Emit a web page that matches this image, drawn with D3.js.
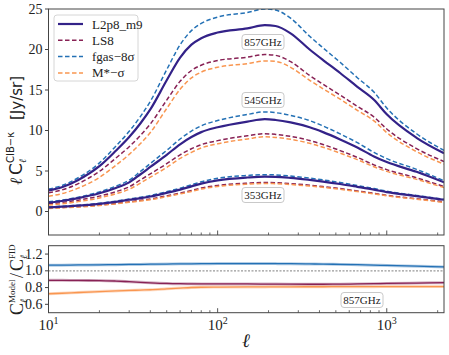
<!DOCTYPE html>
<html>
<head>
<meta charset="utf-8">
<script src="https://cdn.jsdelivr.net/npm/d3@7"></script>
<style>
  body { margin: 0; background: #fff; }
  svg { display: block; }
  text { font-family: "Liberation Serif", "DejaVu Serif", serif; fill: #222; }
</style>
</head>
<body>
<svg width="449" height="355"></svg>
<script>
// multipoles
var ells = [10, 12, 15, 20, 25, 30, 35, 40, 50, 60, 70, 80, 100, 150, 190, 220, 270, 350, 420, 530, 670, 840, 1000, 1500, 2180];

// 857 GHz
var l2p8_857 = [2.6, 3.0, 3.9, 5.6, 7.5, 9.2, 10.9, 12.6, 16.2, 19.0, 20.6, 21.4, 22.1, 22.6, 23.0, 22.9, 22.0, 20.0, 18.7, 17.1, 15.4, 13.8, 12.0, 9.1, 7.2];
var ls8_857 = [2.31, 2.66, 3.45, 4.95, 6.59, 8.0, 9.41, 10.8, 13.75, 16.07, 17.41, 18.06, 18.63, 19.05, 19.37, 19.28, 18.5, 16.8, 15.71, 14.38, 12.98, 11.67, 10.19, 7.77, 6.18];
var fgas_857 = [2.77, 3.2, 4.17, 6.0, 8.06, 9.9, 11.74, 13.6, 17.51, 20.58, 22.33, 23.22, 24.0, 24.57, 25.0, 24.87, 23.87, 21.64, 20.2, 18.42, 16.52, 14.74, 12.77, 9.6, 7.54];
var mstar_857 = [1.89, 2.2, 2.89, 4.21, 5.7, 7.05, 8.39, 9.75, 12.72, 15.09, 16.5, 17.21, 17.81, 18.26, 18.58, 18.53, 17.8, 16.2, 15.15, 13.87, 12.49, 11.19, 9.74, 7.39, 5.85];

// 545 GHz
var l2p8_545 = [1.1, 1.3, 1.65, 2.25, 2.9, 3.6, 4.6, 5.5, 7.0, 8.3, 9.2, 9.8, 10.4, 11.1, 11.4, 11.3, 11.0, 10.4, 9.8, 8.9, 7.9, 6.8, 6.1, 4.9, 3.6];
var ls8_545 = [0.95, 1.12, 1.4, 1.9, 2.45, 3.05, 3.9, 4.65, 5.9, 7.0, 7.75, 8.25, 8.75, 9.35, 9.6, 9.52, 9.27, 8.77, 8.27, 7.52, 6.68, 5.76, 5.17, 4.16, 3.08];
var fgas_545 = [1.2, 1.4, 1.77, 2.42, 3.12, 3.87, 4.95, 5.93, 7.55, 8.95, 9.93, 10.58, 11.23, 11.98, 12.3, 12.2, 11.87, 11.22, 10.56, 9.58, 8.5, 7.3, 6.53, 5.2, 3.8];
var mstar_545 = [0.8, 0.95, 1.22, 1.68, 2.2, 2.75, 3.52, 4.24, 5.45, 6.55, 7.3, 7.85, 8.36, 8.96, 9.22, 9.15, 8.91, 8.42, 7.94, 7.2, 6.4, 5.52, 4.95, 3.97, 2.95];

// 353 GHz
var l2p8_353 = [0.5, 0.6, 0.72, 0.95, 1.2, 1.45, 1.65, 1.85, 2.3, 2.7, 3.1, 3.45, 3.85, 4.2, 4.3, 4.28, 4.15, 3.9, 3.7, 3.4, 3.05, 2.7, 2.4, 1.9, 1.45];
var ls8_353 = [0.42, 0.5, 0.6, 0.8, 1.0, 1.2, 1.38, 1.55, 1.94, 2.28, 2.6, 2.9, 3.22, 3.5, 3.58, 3.56, 3.45, 3.25, 3.08, 2.83, 2.54, 2.25, 2.0, 1.58, 1.2];
var fgas_353 = [0.55, 0.65, 0.78, 1.02, 1.28, 1.54, 1.76, 1.97, 2.45, 2.88, 3.3, 3.67, 4.1, 4.45, 4.55, 4.52, 4.38, 4.12, 3.9, 3.58, 3.2, 2.83, 2.51, 1.98, 1.5];
var mstar_353 = [0.38, 0.46, 0.56, 0.74, 0.94, 1.13, 1.3, 1.46, 1.84, 2.17, 2.48, 2.77, 3.09, 3.37, 3.45, 3.44, 3.33, 3.14, 2.98, 2.74, 2.46, 2.18, 1.94, 1.53, 1.12];

// ratio to fiducial, 857 GHz
var ratio_fgas = [1.067, 1.068, 1.07, 1.072, 1.074, 1.076, 1.077, 1.079, 1.081, 1.083, 1.084, 1.085, 1.086, 1.087, 1.087, 1.086, 1.085, 1.082, 1.08, 1.077, 1.073, 1.068, 1.064, 1.055, 1.047];
var ratio_ls8 = [0.887, 0.886, 0.885, 0.884, 0.878, 0.87, 0.863, 0.857, 0.849, 0.846, 0.845, 0.844, 0.843, 0.843, 0.842, 0.842, 0.841, 0.84, 0.84, 0.841, 0.843, 0.846, 0.849, 0.854, 0.859];
var ratio_mstar = [0.726, 0.732, 0.741, 0.752, 0.76, 0.766, 0.77, 0.774, 0.785, 0.794, 0.801, 0.804, 0.806, 0.808, 0.808, 0.809, 0.809, 0.81, 0.81, 0.811, 0.811, 0.811, 0.812, 0.812, 0.812];

var modelNames = ["L2p8_m9", "LS8", "fgas\u22128\u03c3", "M*\u2212\u03c3"];
var freqLabels = ["857GHz", "545GHz", "353GHz"];
var yTicksTop = [0, 5, 10, 15, 20, 25];
var yTicksBot = [0.6, 0.8, 1.0, 1.2];

var colors = ["#332288", "#882255", "#2471b5", "#f99650"];

var svg = d3.select("svg");

var left = 48.5, right = 444;
var topY0 = 9, topY1 = 235;
var botY0 = 245.7, botY1 = 312.7;

var x = d3.scaleLog().domain([10, 2180]).range([left, right]);
var yTop = d3.scaleLinear().domain([-2.9, 25]).range([topY1, topY0]);
var yBot = d3.scaleLinear().domain([0.5, 1.3]).range([botY1, botY0]);

svg.append("defs").selectAll("clipPath")
    .data([["clipTop", topY0, topY1], ["clipBot", botY0, botY1]])
    .enter().append("clipPath").attr("id", function(d) { return d[0]; })
    .append("rect").attr("x", left).attr("y", function(d) { return d[1]; })
    .attr("width", right - left).attr("height", function(d) { return d[2] - d[1]; });

function lineFor(yscale) {
    return d3.line()
        .x(function(d, i) { return x(ells[i]); })
        .y(function(d) { return yscale(d); })
        .curve(d3.curveMonotoneX);
}

// top panel curves
var groups = [
    [l2p8_857, ls8_857, fgas_857, mstar_857],
    [l2p8_545, ls8_545, fgas_545, mstar_545],
    [l2p8_353, ls8_353, fgas_353, mstar_353]
];
var drawOrder = [1, 3, 2, 0];
var gTop = svg.append("g").attr("clip-path", "url(#clipTop)");
groups.forEach(function(g) {
    drawOrder.forEach(function(m) {
        gTop.append("path")
            .attr("d", lineFor(yTop)(g[m]))
            .attr("fill", "none")
            .attr("stroke", colors[m])
            .attr("stroke-width", m == 0 ? 2.2 : 1.5)
            .attr("stroke-dasharray", m == 0 ? null : "4.5,2.5");
    });
});

// bottom panel
var gBot = svg.append("g").attr("clip-path", "url(#clipBot)");
gBot.append("line")
    .attr("x1", left).attr("x2", right)
    .attr("y1", yBot(1)).attr("y2", yBot(1))
    .attr("stroke", "#999").attr("stroke-width", 1.3)
    .attr("stroke-dasharray", "2,1.5");
[[ratio_fgas, 2], [ratio_ls8, 1], [ratio_mstar, 3]].forEach(function(r) {
    gBot.append("path")
        .attr("d", lineFor(yBot)(r[0]))
        .attr("fill", "none").attr("stroke", colors[r[1]])
        .attr("stroke-opacity", 0.35).attr("stroke-width", 3);
    gBot.append("path")
        .attr("d", lineFor(yBot)(r[0]))
        .attr("fill", "none").attr("stroke", colors[r[1]])
        .attr("stroke-width", 1.3);
});

// frames
[[topY0, topY1], [botY0, botY1]].forEach(function(p) {
    svg.append("rect")
        .attr("x", left).attr("y", p[0])
        .attr("width", right - left).attr("height", p[1] - p[0])
        .attr("fill", "none").attr("stroke", "#444").attr("stroke-width", 1);
});

// x ticks (inward), on both panels
var minor = [];
[10, 100, 1000].forEach(function(dec) {
    for (var k = 2; k <= 9; k++) if (dec * k <= 2180) minor.push(dec * k);
});
[topY1, botY1].forEach(function(yb) {
    svg.append("g").selectAll("line").data(minor).enter().append("line")
        .attr("x1", function(d) { return x(d); }).attr("x2", function(d) { return x(d); })
        .attr("y1", yb).attr("y2", yb - 2.5)
        .attr("stroke", "#444").attr("stroke-width", 0.8);
    svg.append("g").selectAll("line").data([100, 1000]).enter().append("line")
        .attr("x1", function(d) { return x(d); }).attr("x2", function(d) { return x(d); })
        .attr("y1", yb).attr("y2", yb - 4.5)
        .attr("stroke", "#444").attr("stroke-width", 0.9);
});

// x tick labels
var xl = svg.append("g").selectAll("text").data([10, 100, 1000]).enter().append("text")
    .attr("x", function(d) { return x(d); })
    .attr("y", 330)
    .attr("text-anchor", "middle")
    .attr("font-size", 15);
xl.append("tspan").text("10");
xl.append("tspan").attr("dy", -6).attr("font-size", 10)
    .text(function(d) { return Math.round(Math.log10(d)); });

svg.append("text").attr("x", 246).attr("y", 347)
    .attr("text-anchor", "middle").attr("font-size", 19)
    .attr("font-style", "italic").text("\u2113");

// y ticks (outward)
svg.append("g").selectAll("line").data(yTicksTop).enter().append("line")
    .attr("x1", left - 3.5).attr("x2", left)
    .attr("y1", function(d) { return yTop(d); }).attr("y2", function(d) { return yTop(d); })
    .attr("stroke", "#444");
svg.append("g").selectAll("text").data(yTicksTop).enter().append("text")
    .attr("x", left - 6).attr("y", function(d) { return yTop(d) + 4.5; })
    .attr("text-anchor", "end").attr("font-size", 14)
    .text(function(d) { return d; });

svg.append("g").selectAll("line").data(yTicksBot).enter().append("line")
    .attr("x1", left - 3.5).attr("x2", left)
    .attr("y1", function(d) { return yBot(d); }).attr("y2", function(d) { return yBot(d); })
    .attr("stroke", "#444");
svg.append("g").selectAll("text").data(yTicksBot).enter().append("text")
    .attr("x", left - 6).attr("y", function(d) { return yBot(d) + 4.5; })
    .attr("text-anchor", "end").attr("font-size", 14)
    .text(function(d) { return d.toFixed(1); });

// y label top
var yl = svg.append("g").attr("transform", "translate(22,122) rotate(-90)");
yl.append("text").attr("x", -63).attr("font-size", 17).attr("font-style", "italic").text("\u2113");
yl.append("text").attr("x", -53).attr("font-size", 17)
    .style("font-family", "'DejaVu Sans', sans-serif").text("C");
yl.append("text").attr("x", -41).attr("y", -8).attr("font-size", 10)
    .style("font-family", "'DejaVu Sans', sans-serif").text("CIB\u2212\u03ba");
yl.append("text").attr("x", -41).attr("y", 4).attr("font-size", 10)
    .attr("font-style", "italic").text("\u2113");
yl.append("text").attr("x", 2).attr("font-size", 15)
    .style("font-family", "'DejaVu Sans', sans-serif").text("[Jy/sr]");

// y label bottom
var bl = svg.append("g").attr("transform", "translate(23,279) rotate(-90)");
bl.append("text").attr("x", -36).attr("font-size", 18).text("C");
bl.append("text").attr("x", -24).attr("y", -8).attr("font-size", 9).text("Model");
bl.append("text").attr("x", -24).attr("y", 4).attr("font-size", 10).attr("font-style", "italic").text("\u2113");
bl.append("text").attr("x", 1).attr("font-size", 18).text("/");
bl.append("text").attr("x", 8).attr("font-size", 18).text("C");
bl.append("text").attr("x", 20).attr("y", -8).attr("font-size", 9).text("FID");
bl.append("text").attr("x", 20).attr("y", 4).attr("font-size", 10).attr("font-style", "italic").text("\u2113");

// frequency tags
function tag(cx, cy, label) {
    var g = svg.append("g").attr("transform", "translate(" + cx + "," + cy + ")");
    g.append("rect").attr("x", -21).attr("y", -7.5).attr("width", 42).attr("height", 15)
        .attr("rx", 3).attr("fill", "#fff").attr("fill-opacity", 0.85)
        .attr("stroke", "#bbb").attr("stroke-width", 0.8);
    g.append("text").attr("y", 4).attr("text-anchor", "middle").attr("font-size", 11).text(label);
}
tag(263, 42, freqLabels[0]);
tag(263, 100, freqLabels[1]);
tag(263, 195, freqLabels[2]);
tag(362, 300, freqLabels[0]);

// legend
var lg = svg.append("g").attr("transform", "translate(54,15)");
lg.append("rect").attr("width", 84).attr("height", 66).attr("rx", 3)
    .attr("fill", "#fff").attr("fill-opacity", 0.85)
    .attr("stroke", "#ccc").attr("stroke-width", 0.8);
var items = lg.selectAll("g.item").data(modelNames).enter().append("g")
    .attr("transform", function(d, i) { return "translate(0," + (9 + i * 16.3) + ")"; });
items.append("line").attr("x1", 4).attr("x2", 29).attr("y1", 0).attr("y2", 0)
    .attr("stroke", function(d, i) { return colors[i]; })
    .attr("stroke-width", function(d, i) { return i == 0 ? 2.2 : 1.5; })
    .attr("stroke-dasharray", function(d, i) { return i == 0 ? null : "4.5,2.5"; });
items.append("text").attr("x", 38).attr("y", 4.5).attr("font-size", 13)
    .text(function(d) { return d; });
</script>
</body>
</html>
